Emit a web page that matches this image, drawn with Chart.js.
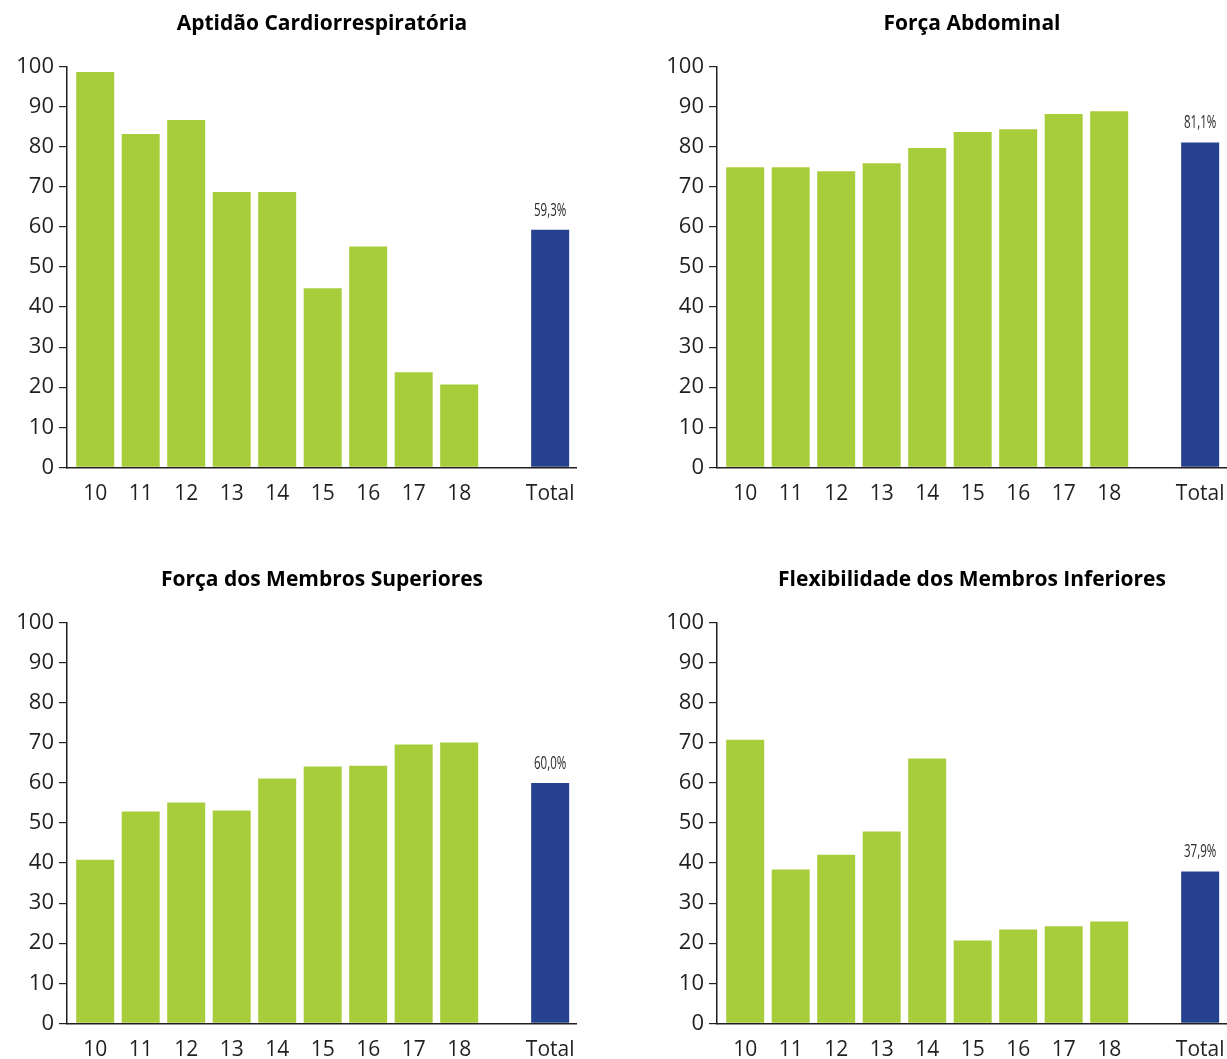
<!DOCTYPE html>
<html lang="pt">
<head>
<meta charset="utf-8">
<title>Aptidão física por idade</title>
<script src="https://cdn.jsdelivr.net/npm/chart.js@4.4.1/dist/chart.umd.min.js"></script>
<style>
  html, body { margin: 0; padding: 0; background: #ffffff; overflow: hidden; }
  body { width: 1227px; height: 1059px; position: relative; }
  canvas { position: absolute; }
  #c1 { left: 0; top: 0; }
  #c2 { left: 650px; top: 0; }
  #c3 { left: 0; top: 556px; }
  #c4 { left: 650px; top: 556px; }
</style>
</head>
<body>
<canvas id="c1" width="577" height="556"></canvas>
<canvas id="c2" width="577" height="556"></canvas>
<canvas id="c3" width="577" height="556"></canvas>
<canvas id="c4" width="577" height="556"></canvas>
<script>
// Age groups (years) and the overall column
const ageLabels = ['10', '11', '12', '13', '14', '15', '16', '17', '18'];
const totalLabel = 'Total';

// Percentage of students in the healthy zone, by age
const cardioTitle = 'Aptidão Cardiorrespiratória';
const cardioValues = [98.7, 83.2, 86.7, 68.7, 68.7, 44.7, 55.1, 23.7, 20.7];
const cardioTotal = 59.3;

const abdominalTitle = 'Força Abdominal';
const abdominalValues = [74.9, 74.9, 73.9, 75.9, 79.7, 83.7, 84.4, 88.2, 88.9];
const abdominalTotal = 81.1;

const upperTitle = 'Força dos Membros Superiores';
const upperValues = [40.8, 52.9, 55.1, 53.1, 61.1, 64.1, 64.3, 69.6, 70.1];
const upperTotal = 60.0;

const flexTitle = 'Flexibilidade dos Membros Inferiores';
const flexValues = [70.8, 38.4, 42.1, 47.9, 66.1, 20.7, 23.4, 24.2, 25.4];
const flexTotal = 37.9;

const yTicks = { min: 0, max: 100, step: 10 };

const GREEN = '#A7CD3A';
const BLUE = '#26418E';
const INK = '#231F20';
const FONT = '"Open Sans", "Noto Sans", sans-serif';

// Writes the percentage above the overall (last) bar, in a condensed face
const totalValueLabel = {
  id: 'totalValueLabel',
  afterDatasetsDraw(chart) {
    const meta = chart.getDatasetMeta(0);
    const last = meta.data.length - 1;
    const bar = meta.data[last];
    const value = chart.data.datasets[0].data[last].y;
    const ctx = chart.ctx;
    const squeeze = 0.64;
    ctx.save();
    ctx.translate(bar.x, bar.y - 14);
    ctx.scale(squeeze, 1);
    ctx.font = '18px "Open Sans", sans-serif';
    ctx.fillStyle = '#2b2b2b';
    ctx.textAlign = 'center';
    ctx.textBaseline = 'alphabetic';
    ctx.fillText(value.toFixed(1).replace('.', ',') + '%', 0, 0);
    ctx.restore();
  }
};

function drawPanel(canvasId, title, values, total) {
  // ages sit on 0..8, one empty slot, then the overall column
  const ageX = ageLabels.map((_, i) => i);
  const totalX = ageLabels.length + 1;
  const points = values.map((v, i) => ({ x: ageX[i], y: v }));
  points.push({ x: totalX, y: total });
  const tickValues = ageX.concat([totalX]);
  const tickLabels = ageLabels.concat([totalLabel]);
  const colors = points.map((_, i) => (i === points.length - 1 ? BLUE : GREEN));

  new Chart(document.getElementById(canvasId), {
    type: 'bar',
    data: {
      datasets: [{
        data: points,
        backgroundColor: colors,
        borderWidth: 0,
        barPercentage: 0.835,
        categoryPercentage: 1
      }]
    },
    options: {
      responsive: false,
      animation: false,
      devicePixelRatio: 1,
      layout: { padding: 0 },
      plugins: {
        legend: { display: false },
        tooltip: { enabled: false },
        title: {
          display: true,
          text: title,
          fullSize: false,
          color: '#000000',
          font: { family: FONT, size: 21, weight: 'bold', lineHeight: 1.2 },
          padding: { top: 11, bottom: 30.5 }
        }
      },
      scales: {
        x: {
          type: 'linear',
          bounds: 'data',
          offset: false,
          min: -0.62,
          max: 10.59,
          afterBuildTicks(scale) {
            scale.ticks = tickValues.map(v => ({ value: v }));
          },
          afterFit(scale) { scale.height = 88.7; },
          // invisible tick marks keep the labels clear of the axis line
          grid: {
            display: true, offset: false, drawOnChartArea: false,
            drawTicks: true, tickLength: 14, color: 'rgba(0,0,0,0)'
          },
          border: { display: true, color: INK, width: 1.5 },
          ticks: {
            autoSkip: false,
            maxRotation: 0,
            padding: 0,
            color: INK,
            font: { family: FONT, size: 21 },
            callback: (value, index) => tickLabels[index]
          }
        },
        y: {
          min: yTicks.min,
          max: yTicks.max,
          afterFit(scale) { scale.width = 67; },
          grid: { drawOnChartArea: false, drawTicks: true, tickLength: 8, color: INK, lineWidth: 1.2 },
          border: { display: true, color: INK, width: 1.5 },
          ticks: {
            stepSize: yTicks.step,
            padding: 5,
            color: INK,
            font: { family: FONT, size: 22 }
          }
        }
      }
    },
    plugins: [totalValueLabel]
  });
}

function drawAll() {
  drawPanel('c1', cardioTitle, cardioValues, cardioTotal);
  drawPanel('c2', abdominalTitle, abdominalValues, abdominalTotal);
  drawPanel('c3', upperTitle, upperValues, upperTotal);
  drawPanel('c4', flexTitle, flexValues, flexTotal);
}

Promise.all([
  document.fonts.load('21px "Open Sans"'),
  document.fonts.load('bold 21px "Open Sans"')
]).then(drawAll, drawAll);
</script>
</body>
</html>
